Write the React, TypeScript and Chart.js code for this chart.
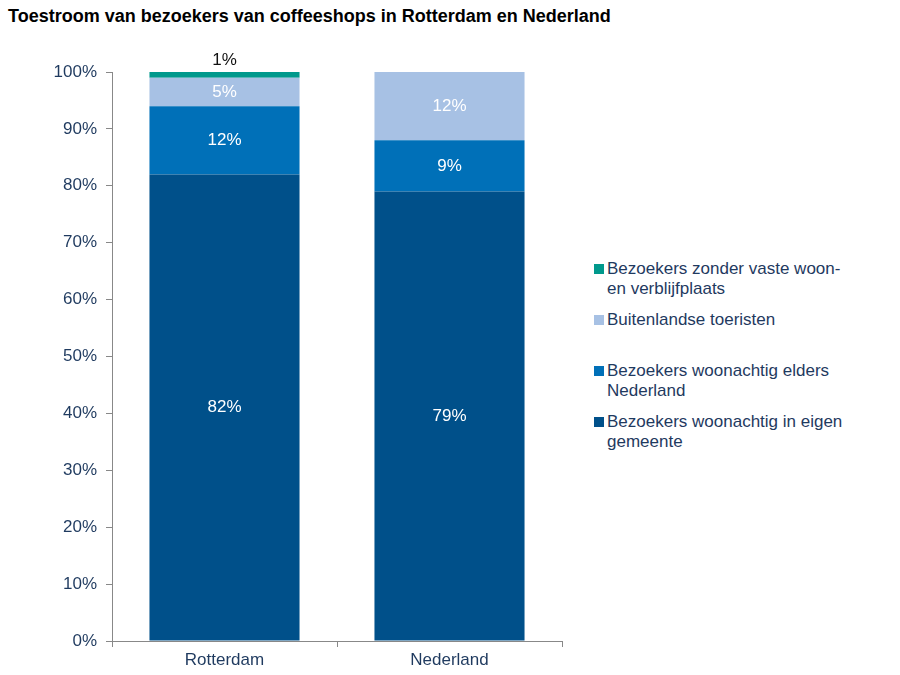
import { useEffect, useRef } from "react"
import { Chart, registerables, Plugin } from "chart.js"

Chart.register(...registerables)

const categories = ["Rotterdam", "Nederland"]
const eigenGemeente = [82, 79]
const eldersNederland = [12, 9]
const buitenlandseToeristen = [5, 12]
const zonderVasteWoonplaats = [1, 0]
const yTicks = [0, 10, 20, 30, 40, 50, 60, 70, 80, 90, 100]

const seriesNames = [
  "Bezoekers woonachtig in eigen gemeente",
  "Bezoekers woonachtig elders Nederland",
  "Buitenlandse toeristen",
  "Bezoekers zonder vaste woon- en verblijfplaats",
]
const colors = ["#00508A", "#0070B8", "#A7C1E4", "#00998C"]

const FONT = "Arial, 'Liberation Sans', sans-serif"
const TEXT = "#1F3A5F"

const barLabels: Plugin<"bar"> = {
  id: "barLabels",
  afterDatasetsDraw(chart) {
    const ctx = chart.ctx
    ctx.save()
    ctx.font = `17px ${FONT}`
    ctx.textAlign = "center"
    ctx.textBaseline = "middle"
    chart.data.datasets.forEach((ds, di) => {
      const meta = chart.getDatasetMeta(di)
      meta.data.forEach((el: any, i) => {
        const v = ds.data[i] as number
        if (!v) return
        const txt = `${v}%`
        if (di === 3) {
          ctx.fillStyle = "#111"
          ctx.fillText(txt, el.x, el.y - 12)
        } else {
          ctx.fillStyle = "#fff"
          ctx.fillText(txt, el.x, (el.y + el.base) / 2)
        }
      })
    })
    ctx.restore()
  },
}

function CoffeeshopChart() {
  const chartRef = useRef<HTMLCanvasElement>(null)
  const chartInstance = useRef<Chart | null>(null)

  useEffect(() => {
    const canvas = chartRef.current
    if (!canvas) return
    const ctx = canvas.getContext("2d")
    if (!ctx) return

    if (chartInstance.current) chartInstance.current.destroy()

    const values = [eigenGemeente, eldersNederland, buitenlandseToeristen, zonderVasteWoonplaats]

    chartInstance.current = new Chart(ctx, {
      type: "bar",
      data: {
        labels: categories,
        datasets: values.map((data, i) => ({
          label: seriesNames[i],
          data,
          backgroundColor: colors[i],
          barPercentage: 0.667,
          categoryPercentage: 1,
        })),
      },
      options: {
        animation: false,
        responsive: true,
        maintainAspectRatio: false,
        layout: { padding: { top: 72, right: 18, left: 0, bottom: 0 } },
        plugins: {
          legend: { display: false },
          tooltip: { enabled: false },
        },
        scales: {
          x: {
            stacked: true,
            grid: { drawOnChartArea: false, drawTicks: true, tickLength: 6, color: "#888" },
            border: { color: "#888" },
            ticks: { color: TEXT, font: { size: 17, family: FONT }, padding: 3 },
            afterFit: (scale) => {
              scale.height = 34
            },
          },
          y: {
            stacked: true,
            min: 0,
            max: 100,
            afterBuildTicks: (scale) => {
              scale.ticks = yTicks.map((v) => ({ value: v }))
            },
            grid: { drawOnChartArea: false, drawTicks: true, tickLength: 6, color: "#888" },
            border: { color: "#888" },
            ticks: {
              color: TEXT,
              font: { size: 17, family: FONT },
              padding: 9,
              callback: (v) => `${v}%`,
            },
            afterFit: (scale) => {
              scale.width = 112
            },
          },
        },
      },
      plugins: [barLabels],
    })

    return () => {
      if (chartInstance.current) chartInstance.current.destroy()
    }
  }, [])

  const legendItems = [
    { i: 3, top: 259, lines: ["Bezoekers zonder vaste woon-", "en verblijfplaats"] },
    { i: 2, top: 310, lines: ["Buitenlandse toeristen"] },
    { i: 1, top: 361, lines: ["Bezoekers woonachtig elders", "Nederland"] },
    { i: 0, top: 412, lines: ["Bezoekers woonachtig in eigen", "gemeente"] },
  ]

  return (
    <div style={{ position: "absolute", left: 0, top: 0, width: 900, height: 675, background: "#fff", fontFamily: FONT }}>
      <div style={{ position: "absolute", left: 8, top: 6, fontSize: 18, fontWeight: "bold", color: "#000" }}>
        Toestroom van bezoekers van coffeeshops in Rotterdam en Nederland
      </div>
      <div style={{ position: "absolute", left: 0, top: 0, width: 580, height: 675 }}>
        <canvas ref={chartRef} />
      </div>
      {legendItems.map((item) => (
        <div key={item.i} style={{ position: "absolute", left: 594, top: item.top, display: "flex", color: TEXT, fontSize: 17, lineHeight: "20px" }}>
          <span style={{ width: 10, height: 10, background: colors[item.i], marginTop: 5, marginRight: 3, flexShrink: 0 }} />
          <span>
            {item.lines.map((l) => (
              <div key={l}>{l}</div>
            ))}
          </span>
        </div>
      ))}
    </div>
  )
}

export default function App() {
  return <CoffeeshopChart />
}
